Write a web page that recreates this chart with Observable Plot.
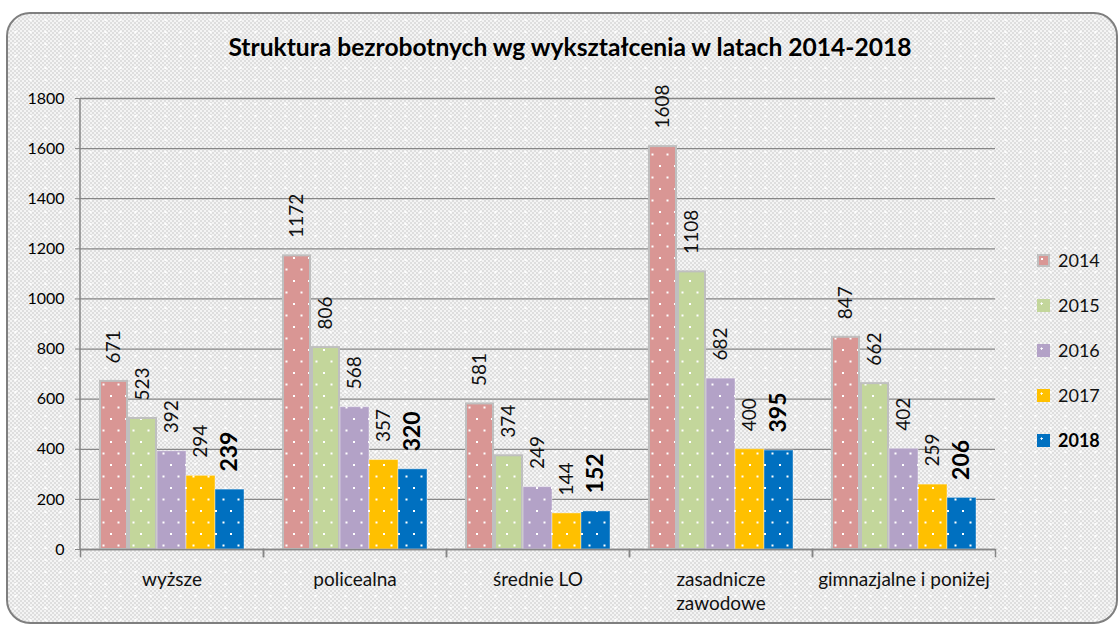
<!DOCTYPE html>
<html>
<head>
<meta charset="utf-8">
<script src="https://cdn.jsdelivr.net/npm/d3@7"></script>
<script src="https://cdn.jsdelivr.net/npm/@observablehq/plot@0.6"></script>
<style>
  html, body { margin: 0; padding: 0; background: #fff; }
  #wrap { position: relative; width: 1119px; height: 624px; overflow: hidden; font-family: Lato, "Open Sans", sans-serif; }
  #frame {
    position: absolute; left: 6px; top: 12px; width: 1108px; height: 608px;
    border: 2px solid #7f7f7f; border-radius: 24px;
    background-color: #e9e9e9;
    background-image:
      radial-gradient(circle, rgba(255,255,255,0.95) 0.9px, transparent 1.4px),
      repeating-conic-gradient(#dedede 0 25%, #f4f4f4 0 50%);
    background-size: 15px 12px, 4px 4px;
  }
  #title { position: absolute; left: 0; width: 1140px; top: 32px; text-align: center; font-weight: bold; font-size: 24.6px; color: #000; }
  #chart { position: absolute; left: 0; top: 0; }
  #legend { position: absolute; left: 1037px; top: 247px; }
  .li { position: absolute; left: 0; height: 26px; display: flex; align-items: center; white-space: nowrap; font-size: 18px; color: #111; }
  .sw { width: 13px; height: 13px; margin-right: 8px; box-sizing: border-box; }
</style>
</head>
<body>
<svg width="0" height="0" style="position:absolute">
  <defs id="pdefs"></defs>
</svg>
<div id="wrap">
  <div id="frame"></div>
  <div id="title"></div>
  <div id="chart"></div>
  <div id="legend"></div>
</div>
<script>
const titleText = "Struktura bezrobotnych wg wykształcenia w latach 2014-2018";
const categories = ["wyższe", "policealna", "średnie LO", "zasadnicze zawodowe", "gimnazjalne i poniżej"];
const categoryLabels = ["wyższe", "policealna", "średnie LO", "zasadnicze\nzawodowe", "gimnazjalne i poniżej"];
const years = ["2014", "2015", "2016", "2017", "2018"];
const values2014 = [671, 1172, 581, 1608, 847];
const values2015 = [523, 806, 374, 1108, 662];
const values2016 = [392, 568, 249, 682, 402];
const values2017 = [294, 357, 144, 400, 259];
const values2018 = [239, 320, 152, 395, 206];
const yTicks = [0, 200, 400, 600, 800, 1000, 1200, 1400, 1600, 1800];
const colors = ["#d99694", "#c3d69b", "#b3a2c7", "#ffc000", "#0070c0"];

const series = [values2014, values2015, values2016, values2017, values2018];
const data = [];
categories.forEach((c, i) => years.forEach((y, j) => data.push({category: c, year: y, value: series[j][i]})));

// dotted fill patterns
const ns = "http://www.w3.org/2000/svg";
const defs = document.getElementById("pdefs");
years.forEach((y, j) => {
  const p = document.createElementNS(ns, "pattern");
  p.setAttribute("id", "pat" + y);
  p.setAttribute("patternUnits", "userSpaceOnUse");
  p.setAttribute("width", "15");
  p.setAttribute("height", "23");
  p.innerHTML = `<rect width="15" height="23" fill="${colors[j]}"/>` +
    `<rect x="3" y="4" width="2" height="2" fill="#fff"/>` +
    `<rect x="10.5" y="15.5" width="2" height="2" fill="#fff"/>`;
  defs.appendChild(p);
});

document.getElementById("title").textContent = titleText;

const W = 1119, H = 624;
const mL = 78, mR = 123, mT = 98, mB = 75;
const plotH = H - mT - mB;

let yAxisDrawn = false;
const yAxisLine = (index, scales, values, dimensions) => {
  if (yAxisDrawn) return null;
  yAxisDrawn = true;
  const l = document.createElementNS(ns, "line");
  l.setAttribute("x1", dimensions.marginLeft);
  l.setAttribute("x2", dimensions.marginLeft);
  l.setAttribute("y1", scales.y(yTicks[0]));
  l.setAttribute("y2", scales.y(yTicks[yTicks.length - 1]));
  l.setAttribute("stroke", "#868686");
  l.setAttribute("stroke-width", "1.5");
  return l;
};

const chart = Plot.plot({
  width: W, height: H,
  marginLeft: mL, marginRight: mR, marginTop: mT, marginBottom: mB,
  style: {background: "transparent", fontFamily: "Lato, 'Open Sans', sans-serif", overflow: "visible"},
  fx: {domain: categories, padding: 0, label: null, axis: null},
  x: {domain: years, paddingInner: 0, paddingOuter: 0.56, axis: null},
  y: {domain: [0, 1800], ticks: yTicks, label: null},
  color: {domain: years, range: years.map(y => `url(#pat${y})`)},
  marks: [
    Plot.gridY(yTicks, {stroke: "#868686", strokeOpacity: 1, strokeWidth: 1.3}),
    Plot.axisY(yTicks, {tickSize: 5, tickPadding: 11, fontSize: 16, stroke: "#868686", fill: "black", label: null,
      tickFormat: d => String(d)}),
    Plot.axisFx({anchor: "bottom", tickSize: 0, tickPadding: 20, fontSize: 19, lineHeight: 1.25, fill: "#111",
      tickFormat: d => categoryLabels[categories.indexOf(d)], label: null}),
    Plot.barY(data, {fx: "category", x: "year", y: "value", fill: "year",
      filter: d => d.year === "2014" || d.year === "2015", stroke: "#bfbfbf", strokeWidth: 2, insetLeft: 1, insetRight: 1}),
    Plot.barY(data, {fx: "category", x: "year", y: "value", fill: "year",
      filter: d => !(d.year === "2014" || d.year === "2015"), stroke: "#ffffff", strokeOpacity: 0.4, strokeWidth: 1}),
    Plot.ruleY([0], {stroke: "#868686", strokeWidth: 1.5}),
    Plot.frame({anchor: "left", stroke: "#868686", strokeWidth: 1.5, insetTop: plotH, insetBottom: -7}),
    Plot.frame({anchor: "right", stroke: "#868686", strokeWidth: 1.5, insetTop: plotH, insetBottom: -7}),
    yAxisLine,
    Plot.text(data, {fx: "category", x: "year", y: "value", text: d => String(d.value),
      filter: d => d.year !== "2018", rotate: -90, textAnchor: "start", lineAnchor: "middle",
      dy: -18, fontSize: 19, fill: "#111"}),
    Plot.text(data, {fx: "category", x: "year", y: "value", text: d => String(d.value),
      filter: d => d.year === "2018", rotate: -90, textAnchor: "start", lineAnchor: "middle",
      dy: -18, fontSize: 23, fontWeight: "bold", fill: "#000"})
  ]
});
document.getElementById("chart").appendChild(chart);

// legend
const legend = document.getElementById("legend");
years.forEach((y, j) => {
  const row = document.createElement("div");
  row.className = "li";
  row.style.top = (j * 45) + "px";
  const sw = document.createElement("div");
  sw.className = "sw";
  sw.style.background = colors[j];
  sw.style.backgroundImage = "radial-gradient(circle at 35% 35%, #fff 0.9px, transparent 1.3px)";
  if (j === 0) sw.style.border = "2px solid #bfbfbf";
  const t = document.createElement("span");
  t.textContent = y;
  if (j === 4) { t.style.fontWeight = "bold"; t.style.color = "#000"; }
  row.appendChild(sw);
  row.appendChild(t);
  legend.appendChild(row);
});
</script>
</body>
</html>
